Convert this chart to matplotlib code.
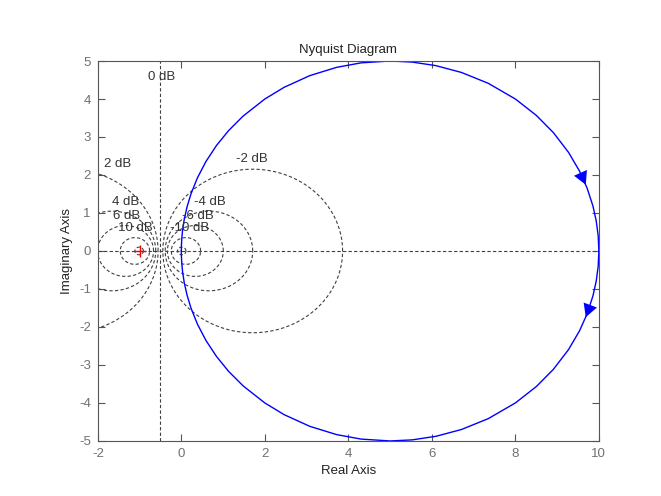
import matplotlib
matplotlib.use("Agg")
import matplotlib.pyplot as plt
import numpy as np

plt.rcParams["font.family"] = ["Liberation Sans", "DejaVu Sans"]
plt.rcParams["axes.unicode_minus"] = False

# open-loop transfer function G(s) = 10 / (s + 1)
num = [10.0]
den = [1.0, 1.0]
# frequency samples (rad/s), positive branch
freqs = [0.0, 0.04, 0.08, 0.12, 0.17, 0.22, 0.28, 0.35, 0.42, 0.5, 0.6, 0.7, 0.8,
         0.9, 1.0, 1.15, 1.3, 1.5, 1.75, 2.0, 2.4, 2.8, 3.3, 4.0, 5.0, 6.5, 8.5,
         12.0, 18.0, 30.0, 60.0, 200.0, 1e4]
arrow_freq = 0.18

# M-circle levels (dB) and their labels
grid_db = [-20, -10, -6, -4, -2, 2, 4, 6, 10, 20]
label_txt = ["2 dB", "4 dB", "6 dB", "10 dB", "-2 dB", "-4 dB", "-6 dB", "-10 dB"]

# where the labels sit
label_x = [-1.52, -1.33, -1.31, -1.09, 1.69, 0.69, 0.40, 0.20]
label_y = [2.29, 1.29, 0.92, 0.60, 2.42, 1.29, 0.92, 0.60]

GRID = "#404040"
AX_GRAY = "#555555"
TICK_TXT = "#707070"
BLUE = "#0000ff"


def freqresp(wv):
    wv = np.asarray(wv, dtype=float)
    return np.polyval(num, 1j * wv) / np.polyval(den, 1j * wv)


fig = plt.figure(figsize=(6.61, 4.96), dpi=100)
ax = fig.add_axes([0.148, 0.111, 0.758, 0.766])

G = freqresp(freqs)

# constant-magnitude circles
theta = np.linspace(0, 2 * np.pi, 400)
for db in grid_db:
    M = 10 ** (db / 20.0)
    c = -M ** 2 / (M ** 2 - 1)
    r = abs(M / (M ** 2 - 1))
    ax.plot(c + r * np.cos(theta), r * np.sin(theta), ls="--", color=GRID,
            lw=0.8, dashes=(3, 2))
ax.axhline(0, ls="--", color=GRID, lw=0.8, dashes=(3, 2))
ax.axvline(-0.5, ls="--", color=GRID, lw=0.8, dashes=(3, 2))

for lx, ly, t in zip(label_x, label_y, label_txt):
    ax.text(lx, ly, t, ha="center", va="center", fontsize=9.5, color="#333333")
ax.text(-0.47, 4.58, "0 dB", ha="center", va="center", fontsize=9.5, color="#333333")

# Nyquist curve, both branches
ax.plot(G.real, G.imag, color=BLUE, lw=1.0)
ax.plot(G.real, -G.imag, color=BLUE, lw=1.0)

# direction arrows (tip at arrow_freq), both pointing along travel
a0, a1, a2 = freqresp([arrow_freq - 0.03, arrow_freq, arrow_freq + 0.03])
head = dict(arrowstyle="-|>,head_length=0.55,head_width=0.3", color=BLUE, lw=0,
            mutation_scale=17, shrinkA=0, shrinkB=0)
# positive frequencies: moving away from 10 into the lower half
ax.annotate("", xy=(a1.real, a1.imag), xytext=(a0.real, a0.imag), arrowprops=head)
# negative frequencies: moving towards 10 from the upper half
ax.annotate("", xy=(a1.real, -a1.imag), xytext=(a2.real, -a2.imag), arrowprops=head)

ax.plot([-1], [0], marker="+", color="red", ms=8, mew=1.0)

ax.set_xlim(-2, 10)
ax.set_ylim(-5, 5)
ax.set_xticks(range(-2, 11, 2))
ax.set_yticks(range(-5, 6))
ax.tick_params(direction="in", top=True, right=True, length=5, width=0.8,
               colors=AX_GRAY, labelsize=9.5, labelcolor=TICK_TXT, pad=5)
for s in ax.spines.values():
    s.set_color(AX_GRAY)
    s.set_linewidth(0.8)
ax.set_xlabel("Real Axis", fontsize=9.5, color="#222222")
ax.set_ylabel("Imaginary Axis", fontsize=9.5, color="#222222")
ax.set_title("Nyquist Diagram", fontsize=9.5, color="#222222")

fig.savefig("out.png", dpi=100)
